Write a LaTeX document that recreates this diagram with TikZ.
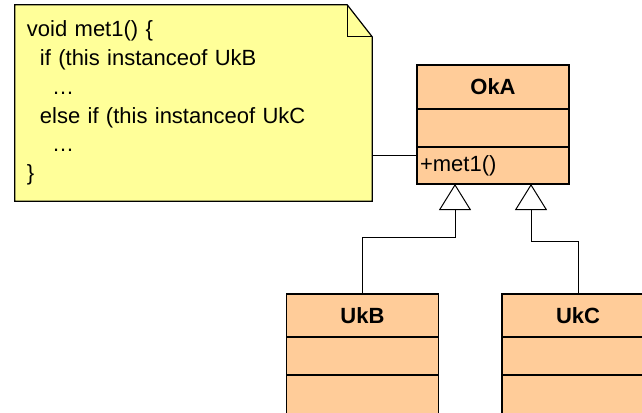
\documentclass[tikz,border=0pt]{standalone}
\usepackage{fontspec}
\setmainfont{Liberation Sans}
\usetikzlibrary{positioning,arrows.meta,backgrounds}
\definecolor{notefill}{HTML}{FFFF99}
\definecolor{classfill}{HTML}{FFCC99}
\tikzset{
  classbox/.style={draw, fill=classfill, line width=1.6pt, minimum width=152pt, outer sep=0pt, inner xsep=3pt, font=\fontsize{22}{26}\selectfont},
  classname/.style={classbox, minimum height=43pt, font=\fontsize{22}{26}\selectfont\bfseries},
  classpart/.style={classbox, minimum height=38pt, text width=146pt, align=left},
  notetext/.style={minimum width=357pt, minimum height=196pt, inner xsep=12pt, text width=333pt, align=left, font=\fontsize{22}{28.7}\selectfont},
  link/.style={line width=1pt},
  inherit/.style={link, -{Triangle[open, length=26pt, width=32pt]}}
}
\begin{document}
\begin{tikzpicture}[x=1pt,y=-1pt]
\useasboundingbox (0,0) rectangle (642,412);
\node[notetext] (note) at (193.5,103) {void met1() \{\\
  \hspace*{13pt}if (this instanceof UkB\\
  \hspace*{25pt}…\\
  \hspace*{13pt}else if (this instanceof UkC\\
  \hspace*{25pt}…\\
  \}};
\begin{scope}[on background layer]
\filldraw[fill=notefill, line width=1.2pt] (note.north west) -- ([xshift=-25pt]note.north east) -- ([yshift=-32pt]note.north east) -- (note.south east) -- (note.south west) -- cycle;
\draw[line width=1.2pt] ([xshift=-25pt]note.north east) |- ([yshift=-32pt]note.north east);
\end{scope}
\node[classname, minimum height=44pt] (oka) at (493,87) {OkA};
\node[classpart, below=0pt of oka] (okaattr) {};
\node[classpart, below=0pt of okaattr, minimum height=37pt] (okaops) {+met1()};
\node[classname] (ukb) at (362.5,315.5) {UkB};
\node[classpart, below=0pt of ukb] (ukbattr) {};
\node[classpart, below=0pt of ukbattr, minimum height=46pt] (ukbops) {};
\node[classname] (ukc) at (578,315.5) {UkC};
\node[classpart, below=0pt of ukc] (ukcattr) {};
\node[classpart, below=0pt of ukcattr, minimum height=46pt] (ukcops) {};
\draw[inherit] (ukb.north) -- ++(0,-57) -| ([xshift=-38pt]okaops.south);
\draw[inherit] (ukc.north) -- ++(0,-53) -| ([xshift=38pt]okaops.south);
\draw[link] ([yshift=10.5pt]okaops.west) -- ([yshift=10.5pt]okaops.west -| note.east);
\end{tikzpicture}
\end{document}
